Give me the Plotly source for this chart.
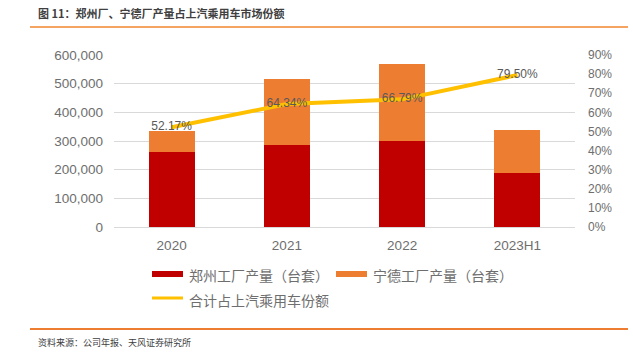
import plotly.graph_objects as go

categories = ["2020", "2021", "2022", "2023H1"]
zhengzhou = [260000, 284500, 298500, 187000]
ningde_total = [335500, 516500, 567500, 339500]
ningde = [t - z for t, z in zip(ningde_total, zhengzhou)]
share = [0.5217, 0.6434, 0.6679, 0.7950]
share_labels = ["52.17%", "64.34%", "66.79%", "79.50%"]

W, H = 633, 353
L, R, T, B = 114, 58, 55, 126
PW, PH = W - L - R, H - T - B

def px(x):
    return (x - L) / PW

def py(y):
    return (H - B - y) / PH

RED = "#C00000"
ORANGE = "#ED7D31"
YELLOW = "#FFC000"
GRAY = "#6E6E6E"

fig = go.Figure()
fig.add_trace(go.Bar(x=categories, y=zhengzhou, marker=dict(color=RED, line=dict(width=0)),
                     name="郑州工厂产量（台套）", showlegend=False))
fig.add_trace(go.Bar(x=categories, y=ningde, marker=dict(color=ORANGE, line=dict(width=0)),
                     name="宁德工厂产量（台套）", showlegend=False))
fig.add_trace(go.Scatter(x=categories, y=share, yaxis="y2", mode="lines+text",
                         line=dict(color=YELLOW, width=4), text=share_labels,
                         textposition="middle center",
                         textfont=dict(family="Liberation Sans", size=12, color="#595959"),
                         name="合计占上汽乘用车份额", showlegend=False, cliponaxis=False))

fig.update_layout(
    width=W, height=H,
    margin=dict(l=L, r=R, t=T, b=B, pad=0),
    paper_bgcolor="white", plot_bgcolor="white",
    barmode="stack", bargap=0.6,
    xaxis=dict(showgrid=False, showline=False, ticks="", ticklabelstandoff=8,
               tickfont=dict(family="Liberation Sans", size=13.5, color=GRAY)),
    yaxis=dict(range=[0, 600000], dtick=100000, tickformat=",", showgrid=True,
               gridcolor="#D9D9D9", gridwidth=1, zeroline=True, zerolinecolor="#D9D9D9",
               zerolinewidth=1, showline=False, ticks="", ticklabelstandoff=10,
               tickfont=dict(family="Liberation Sans", size=13.5, color=GRAY)),
    yaxis2=dict(range=[0, 0.9], dtick=0.1, tickformat=".0%", overlaying="y", side="right",
                showgrid=False, zeroline=False, showline=False, ticks="", ticklabelstandoff=12,
                tickfont=dict(family="Liberation Sans", size=12, color=GRAY)),
)

shapes = []
annotations = []
# title and footer rules
shapes.append(dict(type="line", xref="paper", yref="paper", x0=px(30), x1=px(628), y0=py(27), y1=py(27),
                   line=dict(color="#F4A460", width=2)))
shapes.append(dict(type="line", xref="paper", yref="paper", x0=px(30), x1=px(628), y0=py(329), y1=py(329),
                   line=dict(color="#ED7D31", width=2)))
annotations.append(dict(text="<b>图 11：郑州厂、宁德厂产量占上汽乘用车市场份额</b>", xref="paper", yref="paper",
                        x=px(36), y=py(13), xanchor="left", yanchor="middle", showarrow=False,
                        font=dict(family="Noto Sans CJK SC", size=11, color="#404040")))
annotations.append(dict(text="资料来源：公司年报、天风证券研究所", xref="paper", yref="paper",
                        x=px(36), y=py(342), xanchor="left", yanchor="middle", showarrow=False,
                        font=dict(family="Noto Sans CJK SC", size=9, color="#404040")))
# legend
shapes.append(dict(type="rect", xref="paper", yref="paper", x0=px(152), x1=px(183), y0=py(277), y1=py(271),
                   fillcolor=RED, line=dict(width=0)))
shapes.append(dict(type="rect", xref="paper", yref="paper", x0=px(336), x1=px(367), y0=py(277), y1=py(271),
                   fillcolor=ORANGE, line=dict(width=0)))
shapes.append(dict(type="line", xref="paper", yref="paper", x0=px(152), x1=px(183), y0=py(298), y1=py(298),
                   line=dict(color=YELLOW, width=3)))
leg_font = dict(family="Noto Sans CJK SC", size=14, color=GRAY)
for text, x, y in [("郑州工厂产量（台套）", 187, 274.5), ("宁德工厂产量（台套）", 371, 274.5),
                   ("合计占上汽乘用车份额", 187, 299.5)]:
    annotations.append(dict(text=text, xref="paper", yref="paper", x=px(x), y=py(y),
                            xanchor="left", yanchor="middle", showarrow=False, font=leg_font))

fig.update_layout(shapes=shapes, annotations=annotations)
fig.write_html("out.html")
